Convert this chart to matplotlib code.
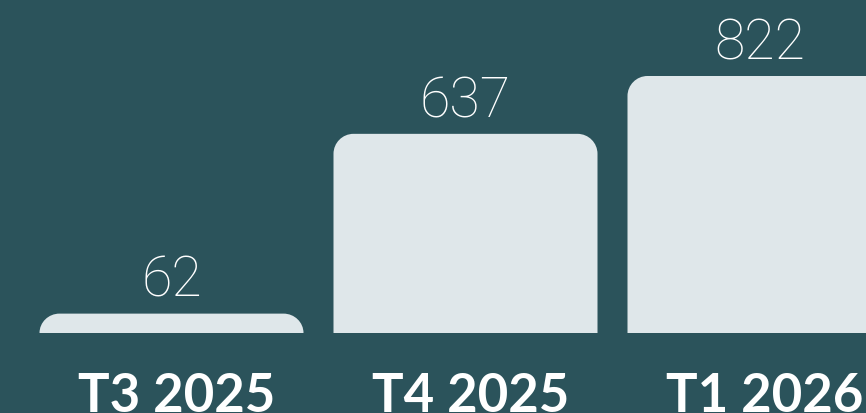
import matplotlib
matplotlib.use("Agg")
import matplotlib.pyplot as plt
from matplotlib.path import Path
from matplotlib.patches import PathPatch

categories = ["T3 2025", "T4 2025", "T1 2026"]
values = [62, 637, 822]

BG = "#2B535B"
BAR = "#DFE7EA"

W, H, DPI = 866, 413, 100
fig = plt.figure(figsize=(W / DPI, H / DPI), dpi=DPI, facecolor=BG)
ax = fig.add_axes([0, 0, 1, 1])
ax.set_facecolor(BG)

# layout (pixels -> data)
spacing_px = 294.0
first_center_px = 171.5
baseline_px_from_bottom = 80.0
px_per_unit = 257.0 / 822.0
x0 = -first_center_px / spacing_px
x1 = (W - first_center_px) / spacing_px
y0 = -baseline_px_from_bottom / px_per_unit
y1 = (H - baseline_px_from_bottom) / px_per_unit
ax.set_xlim(x0, x1)
ax.set_ylim(y0, y1)
ax.axis("off")

width = 264.0 / spacing_px
r_px = 20.0
K = 0.5523


def rounded_top_bar(xc, h):
    rx = r_px / spacing_px
    ry = min(r_px / px_per_unit, h)
    l, r = xc - width / 2, xc + width / 2
    verts = [
        (l, 0), (l, h - ry),
        (l, h - ry + K * ry), (l + rx - K * rx, h), (l + rx, h),
        (r - rx, h),
        (r - rx + K * rx, h), (r, h - ry + K * ry), (r, h - ry),
        (r, 0), (l, 0),
    ]
    codes = [Path.MOVETO, Path.LINETO,
             Path.CURVE4, Path.CURVE4, Path.CURVE4,
             Path.LINETO,
             Path.CURVE4, Path.CURVE4, Path.CURVE4,
             Path.LINETO, Path.CLOSEPOLY]
    return PathPatch(Path(verts, codes), facecolor=BAR, edgecolor="none")


for i, (cat, v) in enumerate(zip(categories, values)):
    ax.add_patch(rounded_top_bar(i, v))
    ax.annotate(str(v), (i, v), xytext=(0, 12), textcoords="offset points",
                ha="center", va="baseline", color="white", fontsize=40,
                fontfamily="Roboto", fontweight="light")
    ax.annotate(cat, (i, 0), xytext=(4, -46), textcoords="offset points",
                ha="center", va="center", color="white", fontsize=38,
                fontfamily="Lato", fontweight="bold")

fig.savefig("out.png", dpi=DPI, facecolor=BG)
